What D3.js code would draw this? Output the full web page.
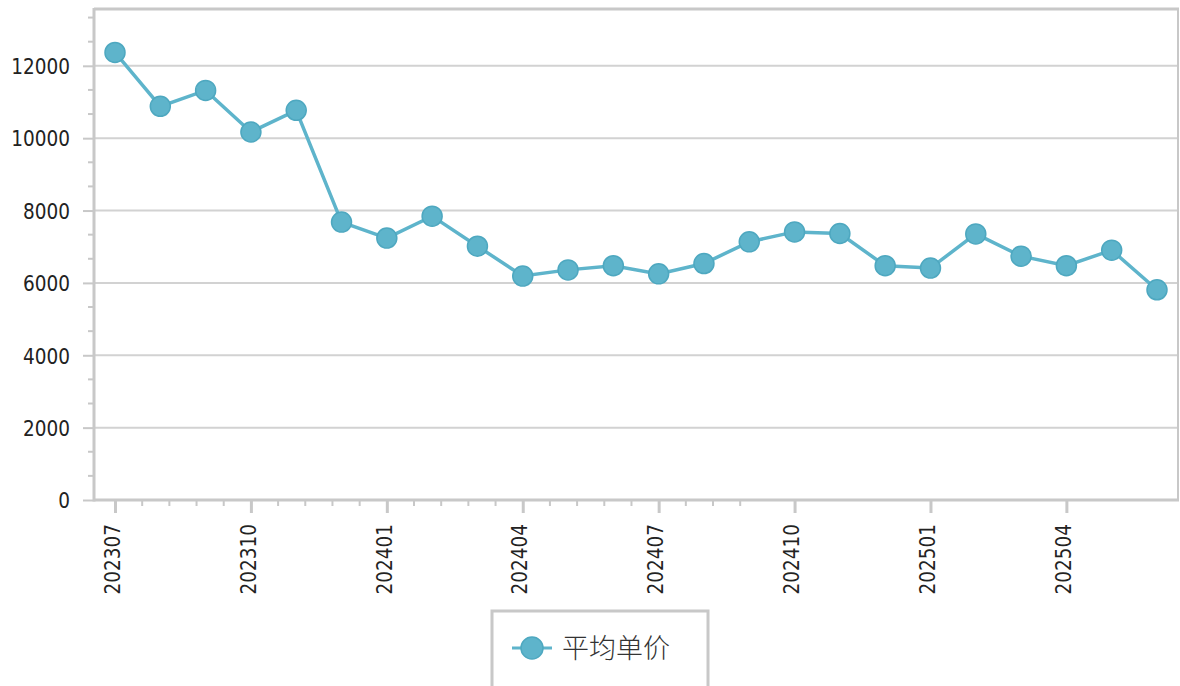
<!DOCTYPE html>
<html>
<head>
<meta charset="utf-8">
<script src="https://cdn.jsdelivr.net/npm/d3@7"></script>
<style>
  body { margin: 0; background: #fff; }
  svg { display: block; }
  .lbl { font-family: "DejaVu Sans", sans-serif; font-stretch: condensed; font-size: 20.5px; fill: #222; }
</style>
</head>
<body>
<script>
// monthly data
var months = ["202307", "202308", "202309", "202310", "202311", "202312",
              "202401", "202402", "202403", "202404", "202405", "202406",
              "202407", "202408", "202409", "202410", "202411", "202412",
              "202501", "202502", "202503", "202504", "202505", "202506"];
var prices = [12370, 10880, 11320, 10170, 10770, 7680,
              7240, 7845, 7015, 6190, 6360, 6475,
              6250, 6535, 7135, 7410, 7365, 6475,
              6410, 7355, 6740, 6475, 6905, 5810];
var yTicks = [0, 2000, 4000, 6000, 8000, 10000, 12000];
var seriesName = "平均单价";

function show_chart(width, height) {
    var svg = d3.select("body").append("svg")
                .attr("width", width)
                .attr("height", height);

    var left = 94, right = 1178, top = 9, bottom = 500;
    var gray = "#c8c8c8";
    var color = "#5eb4cb";

    var yScale = d3.scaleLinear().domain([0, 13570]).range([bottom, top]);
    var xIdx = d3.scaleLinear().domain([0, months.length - 1]).range([115, 1157]);

    // grid lines
    svg.append("g").selectAll("line")
        .data(yTicks.filter(function(d) { return d > 0; }))
        .enter().append("line")
        .attr("x1", left).attr("x2", right)
        .attr("y1", function(d) { return yScale(d); })
        .attr("y2", function(d) { return yScale(d); })
        .attr("stroke", "#d2d2d2").attr("stroke-width", 2);

    // plot border top / right
    svg.append("line").attr("x1", left).attr("x2", right + 1).attr("y1", top).attr("y2", top)
        .attr("stroke", gray).attr("stroke-width", 3);
    svg.append("line").attr("x1", right).attr("x2", right).attr("y1", top).attr("y2", bottom)
        .attr("stroke", gray).attr("stroke-width", 2);

    // y minor ticks
    var yMinor = d3.range(0, 13570, 2000 / 3).filter(function(d, i) { return i % 3 !== 0; });
    svg.append("g").selectAll("line")
        .data(yMinor).enter().append("line")
        .attr("x1", 88).attr("x2", left)
        .attr("y1", function(d) { return yScale(d); })
        .attr("y2", function(d) { return yScale(d); })
        .attr("stroke", gray).attr("stroke-width", 2);

    // y axis
    var yAxis = d3.axisLeft(yScale).tickValues(yTicks).tickFormat(d3.format("d"))
        .tickSize(11).tickPadding(13);
    var gy = svg.append("g").attr("transform", "translate(" + left + ",0)").call(yAxis);
    gy.select(".domain").remove();
    gy.selectAll(".tick line").attr("stroke", gray).attr("stroke-width", 2);
    gy.selectAll("text").attr("class", "lbl").attr("font-family", null).attr("font-size", null)
        .attr("fill", null).attr("dy", "0.38em");
    svg.append("line").attr("x1", left).attr("x2", left).attr("y1", top - 1).attr("y2", bottom + 1.5)
        .attr("stroke", gray).attr("stroke-width", 3);

    // x minor ticks
    var xMinor = d3.range(0, 24, 1).map(function(k) { return k * 0.6; })
        .filter(function(d, k) { return k % 5 !== 0 && d <= 23.5; });
    svg.append("g").selectAll("line")
        .data(xMinor).enter().append("line")
        .attr("x1", function(d) { return xIdx(d); })
        .attr("x2", function(d) { return xIdx(d); })
        .attr("y1", bottom).attr("y2", 506)
        .attr("stroke", gray).attr("stroke-width", 2);

    // x axis
    var xAxis = d3.axisBottom(xIdx)
        .tickValues(d3.range(0, months.length, 3))
        .tickFormat(function(i) { return months[i]; })
        .tickSize(13).tickPadding(0);
    var gx = svg.append("g").attr("transform", "translate(0," + bottom + ")").call(xAxis);
    gx.select(".domain").remove();
    gx.selectAll(".tick line").attr("stroke", gray).attr("stroke-width", 3);
    gx.selectAll("text")
        .attr("class", "lbl").attr("font-family", null).attr("font-size", null).attr("fill", null)
        .attr("transform", "rotate(-90)")
        .attr("text-anchor", "end")
        .attr("x", -24).attr("y", -3)
        .attr("dy", "0.35em");
    svg.append("line").attr("x1", left).attr("x2", right + 1).attr("y1", bottom).attr("y2", bottom)
        .attr("stroke", gray).attr("stroke-width", 3);

    // line
    var line = d3.line()
        .x(function(d, i) { return xIdx(i); })
        .y(function(d) { return yScale(d); });
    svg.append("path").datum(prices)
        .attr("d", line)
        .attr("fill", "none")
        .attr("stroke", color)
        .attr("stroke-width", 3.5);

    // markers
    svg.append("g").selectAll("circle")
        .data(prices).enter().append("circle")
        .attr("cx", function(d, i) { return xIdx(i); })
        .attr("cy", function(d) { return yScale(d); })
        .attr("r", 10)
        .attr("fill", color)
        .attr("stroke", "#4ea8c0")
        .attr("stroke-width", 1.5);

    // legend
    var lg = svg.append("g");
    lg.append("rect").attr("x", 492).attr("y", 611).attr("width", 216).attr("height", 100)
        .attr("fill", "#fff").attr("stroke", gray).attr("stroke-width", 3);
    lg.append("line").attr("x1", 512).attr("x2", 552).attr("y1", 648).attr("y2", 648)
        .attr("stroke", color).attr("stroke-width", 3);
    lg.append("circle").attr("cx", 532).attr("cy", 648).attr("r", 11)
        .attr("fill", color).attr("stroke", "#4ea8c0").attr("stroke-width", 1.5);
    lg.append("text").attr("x", 562).attr("y", 648).attr("dy", "0.36em")
        .attr("font-family", "'Noto Sans CJK SC', sans-serif")
        .attr("font-size", "27px").attr("font-weight", 300).attr("fill", "#333")
        .text(seriesName);
}

var width = 1180;
var height = 686;

document.addEventListener("DOMContentLoaded", show_chart(width, height));
</script>
</body>
</html>
